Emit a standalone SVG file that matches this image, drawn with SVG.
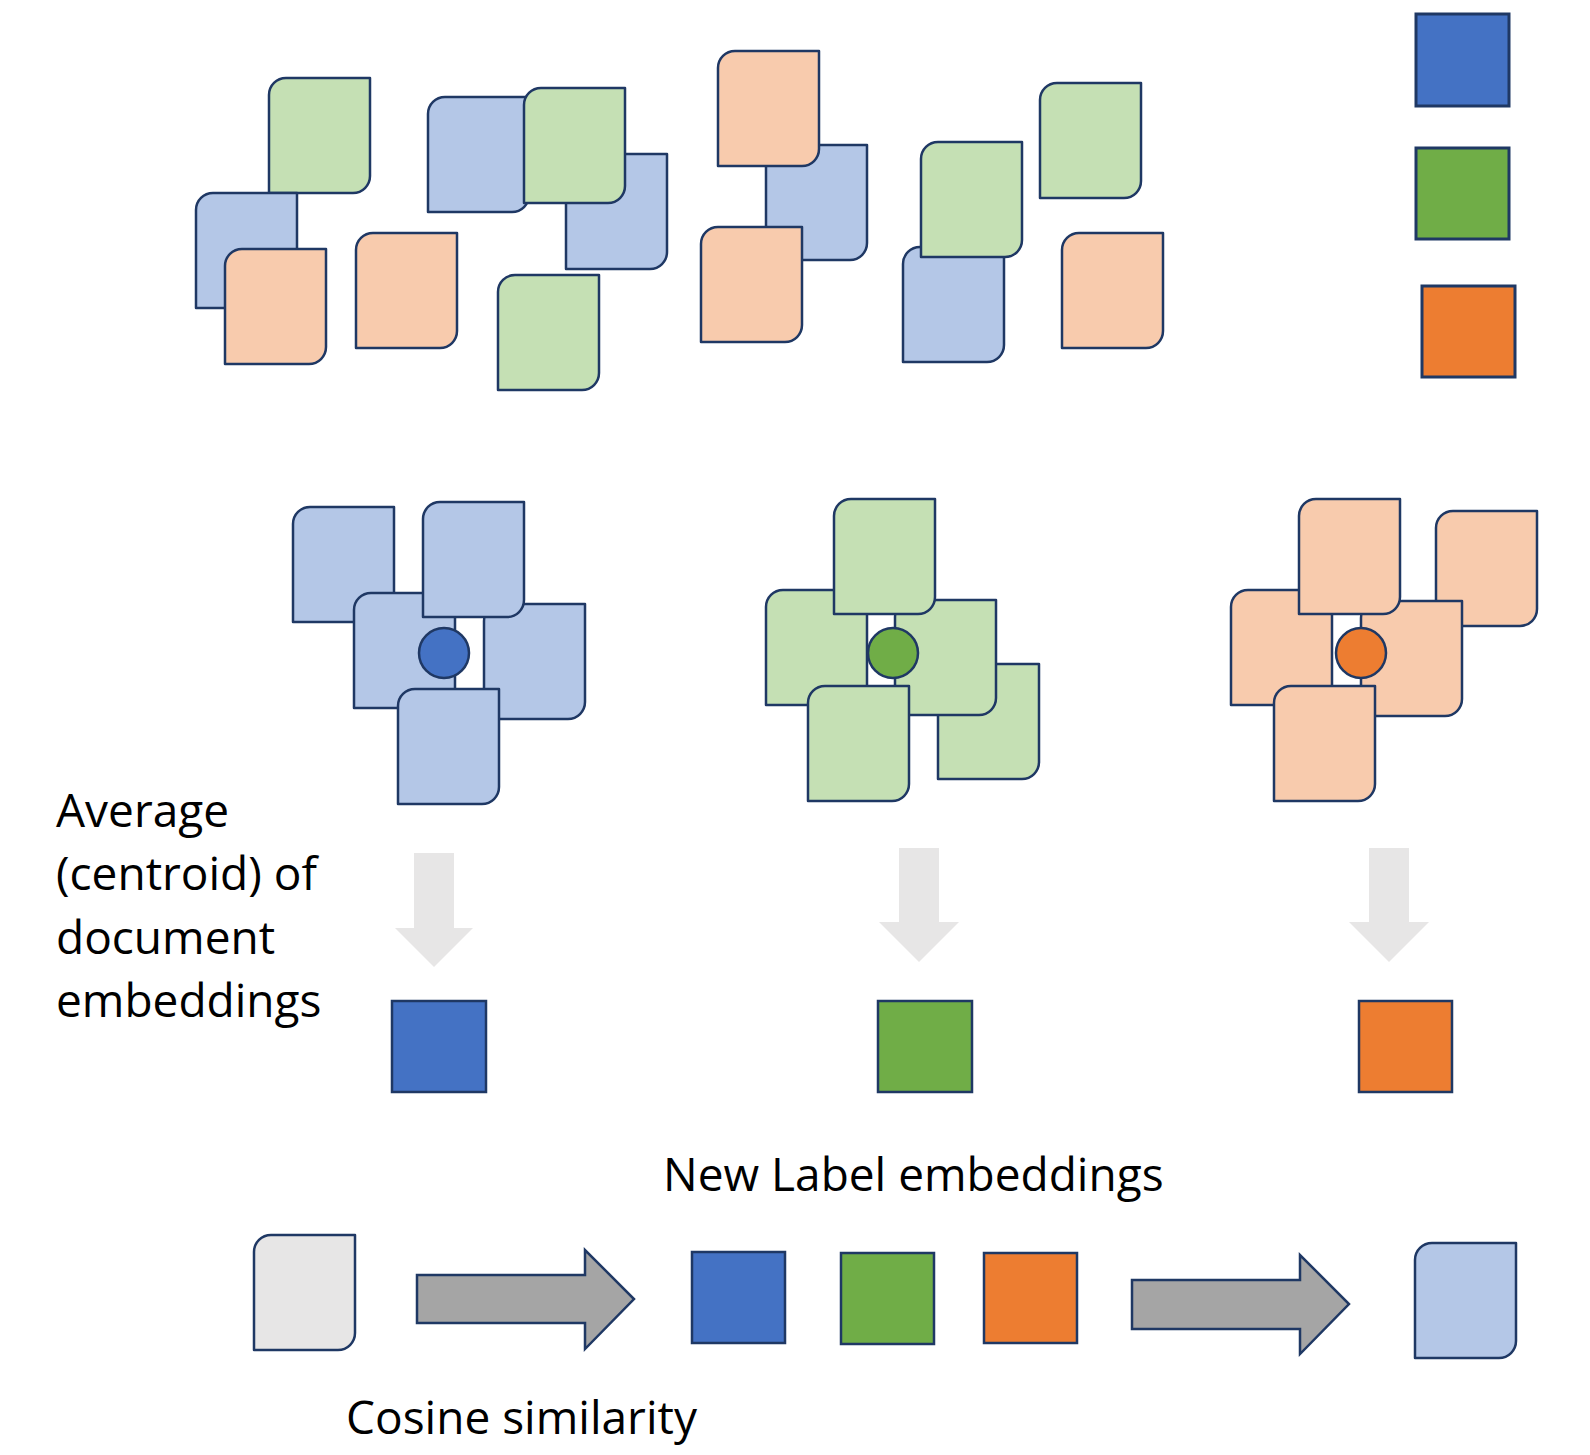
<svg xmlns="http://www.w3.org/2000/svg" xmlns:xlink="http://www.w3.org/1999/xlink" width="1590" height="1455" viewBox="0 0 1590 1455">
<style>
.doc{stroke:#1F3864;stroke-width:2.5;stroke-linejoin:round}
.lb{fill:#B4C7E7}.lg{fill:#C5E0B4}.lo{fill:#F8CBAD}.gr{fill:#E7E6E6}
.sq{stroke:#1F3864;stroke-width:2.5}
.b{fill:#4472C4}.g{fill:#70AD47}.o{fill:#ED7D31}
.leg{stroke-width:3}
.down{fill:#E7E6E6;stroke:none}
.right{fill:#A5A5A5;stroke:#1F3864;stroke-width:2.5;stroke-linejoin:miter}
.t{font-family:"Open Sans","Liberation Sans",sans-serif;font-size:46px;fill:#000}
</style>
<defs>
<path id="doc" d="M17,0 H101 V98 A17,17 0 0 1 84,115 H0 V17 A17,17 0 0 1 17,0 Z"/>
</defs>
<rect width="1590" height="1455" fill="#fff"/>

<g id="scatter">
<use xlink:href="#doc" href="#doc" class="doc lg" x="269" y="78"/>
<use xlink:href="#doc" href="#doc" class="doc lb" x="196" y="193"/>
<use xlink:href="#doc" href="#doc" class="doc lo" x="225" y="249"/>
<use xlink:href="#doc" href="#doc" class="doc lo" x="356" y="233"/>
<use xlink:href="#doc" href="#doc" class="doc lb" x="428" y="97"/>
<use xlink:href="#doc" href="#doc" class="doc lb" x="566" y="154"/>
<use xlink:href="#doc" href="#doc" class="doc lg" x="524" y="88"/>
<use xlink:href="#doc" href="#doc" class="doc lg" x="498" y="275"/>
<use xlink:href="#doc" href="#doc" class="doc lb" x="766" y="145"/>
<use xlink:href="#doc" href="#doc" class="doc lo" x="718" y="51"/>
<use xlink:href="#doc" href="#doc" class="doc lo" x="701" y="227"/>
<use xlink:href="#doc" href="#doc" class="doc lb" x="903" y="247"/>
<use xlink:href="#doc" href="#doc" class="doc lg" x="921" y="142"/>
<use xlink:href="#doc" href="#doc" class="doc lg" x="1040" y="83"/>
<use xlink:href="#doc" href="#doc" class="doc lo" x="1062" y="233"/>
</g>

<g id="legend">
<rect class="sq leg b" x="1416" y="14" width="93" height="92"/>
<rect class="sq leg g" x="1416" y="148" width="93" height="91"/>
<rect class="sq leg o" x="1422" y="286" width="93" height="91"/>
</g>

<g id="cluster-blue">
<use xlink:href="#doc" href="#doc" class="doc lb" x="293" y="507"/>
<use xlink:href="#doc" href="#doc" class="doc lb" x="354" y="593"/>
<use xlink:href="#doc" href="#doc" class="doc lb" x="484" y="604"/>
<use xlink:href="#doc" href="#doc" class="doc lb" x="423" y="502"/>
<use xlink:href="#doc" href="#doc" class="doc lb" x="398" y="689"/>
<circle class="sq b" cx="444" cy="653" r="25"/>
</g>

<g id="cluster-green">
<use xlink:href="#doc" href="#doc" class="doc lg" x="766" y="590"/>
<use xlink:href="#doc" href="#doc" class="doc lg" x="938" y="664"/>
<use xlink:href="#doc" href="#doc" class="doc lg" x="895" y="600"/>
<use xlink:href="#doc" href="#doc" class="doc lg" x="834" y="499"/>
<use xlink:href="#doc" href="#doc" class="doc lg" x="808" y="686"/>
<circle class="sq g" cx="893" cy="653" r="25"/>
</g>

<g id="cluster-orange">
<use xlink:href="#doc" href="#doc" class="doc lo" x="1231" y="590"/>
<use xlink:href="#doc" href="#doc" class="doc lo" x="1436" y="511"/>
<use xlink:href="#doc" href="#doc" class="doc lo" x="1361" y="601"/>
<use xlink:href="#doc" href="#doc" class="doc lo" x="1299" y="499"/>
<use xlink:href="#doc" href="#doc" class="doc lo" x="1274" y="686"/>
<circle class="sq o" cx="1361" cy="653" r="25"/>
</g>

<g id="centroid-blue"><rect class="sq b" x="392" y="1001" width="94" height="91"/></g>
<g id="centroid-green"><rect class="sq g" x="878" y="1001" width="94" height="91"/></g>
<g id="centroid-orange"><rect class="sq o" x="1359" y="1001" width="93" height="91"/></g>

<g id="query-doc"><use xlink:href="#doc" href="#doc" class="doc gr" x="254" y="1235"/></g>
<g id="label-blue"><rect class="sq b" x="692" y="1252" width="93" height="91"/></g>
<g id="label-green"><rect class="sq g" x="841" y="1253" width="93" height="91"/></g>
<g id="label-orange"><rect class="sq o" x="984" y="1253" width="93" height="90"/></g>
<g id="result-doc"><use xlink:href="#doc" href="#doc" class="doc lb" x="1415" y="1243"/></g>

<g id="connectors">
<path class="down" d="M414,853 H454 V928 H473 L434,967 L395,928 H414 Z"/>
<path class="down" d="M899,848 H939 V922 H959 L919,962 L879,922 H899 Z"/>
<path class="down" d="M1369,848 H1409 V922 H1429 L1389,962 L1349,922 H1369 Z"/>
<path class="right" d="M417,1275 H585 V1250 L634,1299 L585,1349 V1323 H417 Z"/>
<path class="right" d="M1132,1280 H1300 V1255 L1349,1304 L1300,1354 V1329 H1132 Z"/>
</g>

<g id="labels">
<text class="t" x="56" y="827">Average</text>
<text class="t" x="56" y="890">(centroid) of</text>
<text class="t" x="56" y="954">document</text>
<text class="t" x="56" y="1017">embeddings</text>
<text class="t" x="663" y="1191">New Label embeddings</text>
<text class="t" x="346" y="1434">Cosine similarity</text>
</g>
</svg>
